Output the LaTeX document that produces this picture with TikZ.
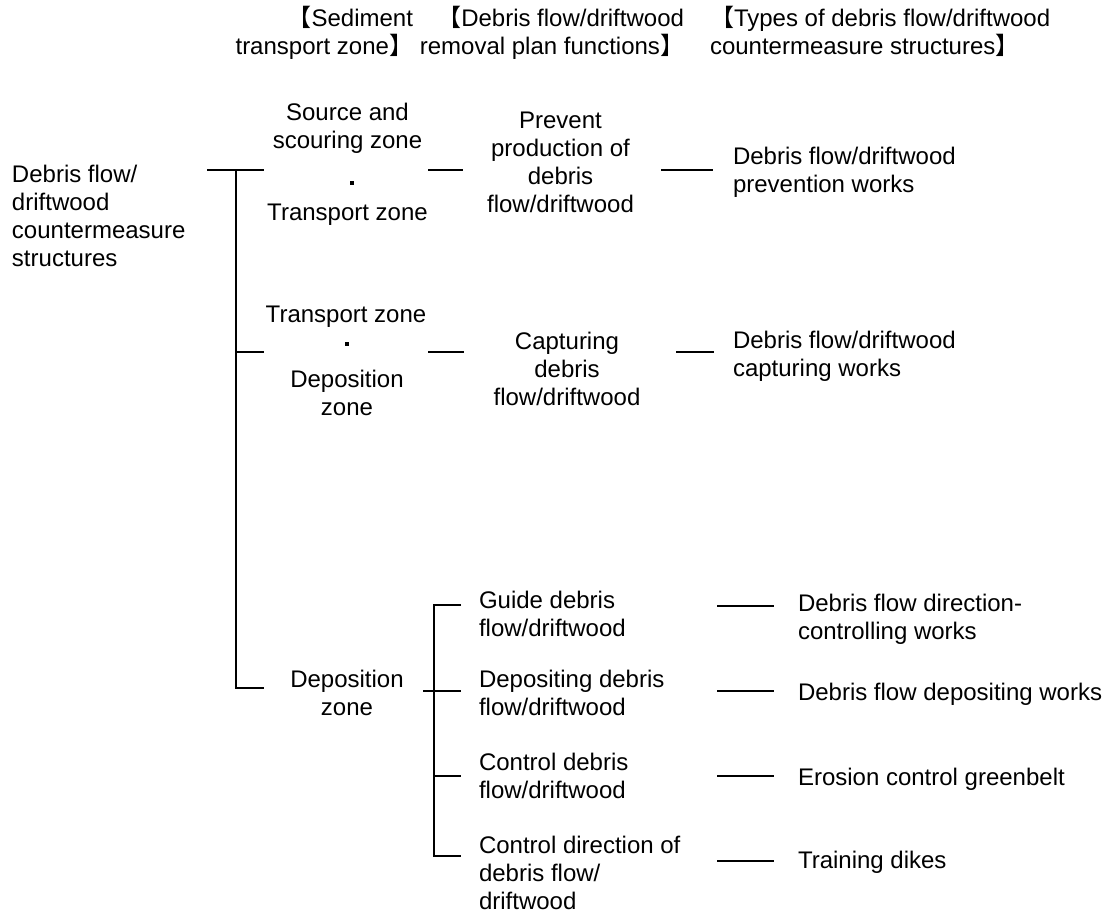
\documentclass[tikz,border=0pt]{standalone}
\usepackage{fontspec}
\setmainfont{Liberation Sans}
\newfontfamily\cjk{Noto Sans CJK SC}
\begin{document}
\begin{tikzpicture}[x=1pt,y=-1pt,
  txt/.style={inner sep=0pt, outer sep=0pt, anchor=base, font=\fontsize{24}{28}\selectfont},
  ctr/.style={txt, align=center},
  lft/.style={txt, align=left, anchor=base west},
  ln/.style={line width=1.6pt},
  dotmark/.style={fill=black, draw=none, rectangle, inner sep=0pt, minimum size=4pt}
]
\useasboundingbox (0,0) rectangle (1114,912);
% (node positions give the baseline of the LAST line of each text)

% headers
\node[txt, align=right, anchor=base east] (h1) at (413,55) {{\cjk 【}Sediment\\transport zone{\cjk 】}};
\node[txt, align=right, anchor=base east] (h2) at (684,55) {{\cjk 【}Debris flow/driftwood\\removal plan functions{\cjk 】}};
\node[txt, align=left, anchor=base west] (h3) at (710,55) {{\cjk 【}Types of debris flow/driftwood\\countermeasure structures{\cjk 】}};

% root
\node[lft] (root) at (12,266) {Debris flow/\\driftwood\\countermeasure\\structures};

% sediment transport zones
\node[ctr] (z1) at (347.5,149) {Source and\\scouring zone};
\node[dotmark] (d1) at (352,183) {};
\node[ctr] (z2) at (347.5,221) {Transport zone};
\node[ctr] (z3) at (346,322) {Transport zone};
\node[dotmark] (d2) at (347,344) {};
\node[ctr] (z4) at (347,415) {Deposition\\zone};
\node[ctr] (z5) at (347,715) {Deposition\\zone};

% functions
\node[ctr] (f1) at (560.5,213) {Prevent\\production of\\debris\\flow/driftwood};
\node[ctr] (f2) at (567,405) {Capturing\\debris\\flow/driftwood};
\node[lft] (f3) at (479,636) {Guide debris\\flow/driftwood};
\node[lft] (f4) at (479,715) {Depositing debris\\flow/driftwood};
\node[lft] (f5) at (479,798) {Control debris\\flow/driftwood};
\node[lft] (f6) at (479,909) {Control direction of\\debris flow/\\driftwood};

% structure types
\node[lft] (t1) at (733,193) {Debris flow/driftwood\\prevention works};
\node[lft] (t2) at (733,376) {Debris flow/driftwood\\capturing works};
\node[lft] (t3) at (798,639) {Debris flow direction-\\controlling works};
\node[lft] (t4) at (798,700) {Debris flow depositing works};
\node[lft] (t5) at (798,785) {Erosion control greenbelt};
\node[lft] (t6) at (798,868) {Training dikes};

% trunk coordinates
\coordinate (rootL) at (207,170);
\coordinate (trTop) at (236,170);
\coordinate (rootR) at (264,170);
\coordinate (trMid) at (236,352);
\coordinate (midR) at (264,352);
\coordinate (trBot) at (236,688);
\coordinate (botR) at (264,688);
% group 1
\coordinate (g1a) at (428,170); \coordinate (g1b) at (463,170);
\coordinate (g1c) at (661,170); \coordinate (g1d) at (713,170);
% group 2
\coordinate (g2a) at (428,352); \coordinate (g2b) at (464,352);
\coordinate (g2c) at (676,352); \coordinate (g2d) at (714,352);
% group 3 bracket
\coordinate (g3s) at (423,691); \coordinate (g3e) at (461,691);
\coordinate (bTop) at (434,605); \coordinate (bTopR) at (461,605);
\coordinate (b3) at (434,776); \coordinate (b3R) at (461,776);
\coordinate (bBot) at (434,856); \coordinate (bBotR) at (461,856);
% right dashes
\coordinate (r1a) at (717,606); \coordinate (r1b) at (774,606);
\coordinate (r2a) at (717,691); \coordinate (r2b) at (774,691);
\coordinate (r3a) at (717,776); \coordinate (r3b) at (774,776);
\coordinate (r4a) at (717,861); \coordinate (r4b) at (774,861);

\draw[ln] (rootL) -- (rootR);
\draw[ln] (trTop) -- (trBot) -- (botR);
\draw[ln] (trMid) -- (midR);
\draw[ln] (g1a) -- (g1b);
\draw[ln] (g1c) -- (g1d);
\draw[ln] (g2a) -- (g2b);
\draw[ln] (g2c) -- (g2d);
\draw[ln] (g3s) -- (g3e);
\draw[ln] (bTopR) -- (bTop) -- (bBot) -- (bBotR);
\draw[ln] (b3) -- (b3R);
\draw[ln] (r1a) -- (r1b);
\draw[ln] (r2a) -- (r2b);
\draw[ln] (r3a) -- (r3b);
\draw[ln] (r4a) -- (r4b);
\end{tikzpicture}
\end{document}
